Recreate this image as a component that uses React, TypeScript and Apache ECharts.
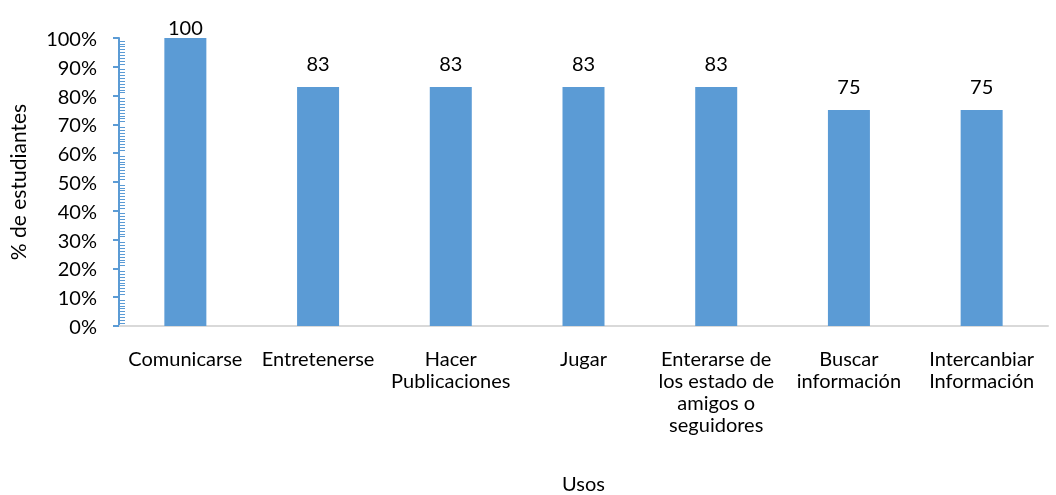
import React, { useEffect, useRef } from "react";
import * as echarts from "echarts";

const categories = [
  "Comunicarse",
  "Entretenerse",
  "Hacer\nPublicaciones",
  "Jugar",
  "Enterarse de\nlos estado de\namigos o\nseguidores",
  "Buscar\ninformación",
  "Intercanbiar\nInformación",
];
const values = [100, 83, 83, 83, 83, 75, 75];
const yTicks = [0, 10, 20, 30, 40, 50, 60, 70, 80, 90, 100];

const FONT = "Lato, 'Open Sans', sans-serif";

export default function App() {
  const ref = useRef<HTMLDivElement>(null);
  useEffect(() => {
    if (!ref.current) return;
    const chart = echarts.init(ref.current, undefined, { renderer: "svg" });
    chart.setOption({
      animation: false,
      textStyle: { fontFamily: FONT },
      grid: {
        left: 119,
        right: 8,
        top: 38,
        bottom: 169,
        containLabel: false,
        outerBoundsMode: "none",
      },
      xAxis: {
        type: "category",
        data: categories,
        name: "Usos",
        nameLocation: "middle",
        nameGap: 147,
        nameTextStyle: { fontSize: 20, color: "#000", fontFamily: FONT },
        axisLine: { lineStyle: { color: "#d9d9d9", width: 2 } },
        axisTick: { show: false },
        axisLabel: {
          interval: 0,
          fontSize: 20,
          color: "#000",
          fontFamily: FONT,
          margin: 21,
          lineHeight: 22,
          align: "center",
        },
      },
      yAxis: {
        type: "value",
        min: yTicks[0],
        max: yTicks[yTicks.length - 1],
        interval: 10,
        name: "% de estudiantes",
        nameLocation: "middle",
        nameGap: 91,
        nameTextStyle: { fontSize: 21, color: "#000", fontFamily: FONT },
        axisLine: { show: true, lineStyle: { color: "#5b9bd5", width: 2 } },
        axisTick: { show: true, length: 6, lineStyle: { color: "#5b9bd5", width: 2 } },
        minorTick: {
          show: true,
          splitNumber: 10,
          length: -6,
          lineStyle: { color: "#5b9bd5", width: 1 },
        },
        splitLine: { show: false },
        axisLabel: {
          formatter: "{value}%",
          fontSize: 20,
          color: "#000",
          fontFamily: FONT,
          margin: 22,
        },
      },
      series: [
        {
          type: "bar",
          data: values.map((v) => ({
            value: v,
            label: { distance: v >= 100 ? 1 : 14 },
          })),
          barWidth: 42,
          itemStyle: { color: "#5b9bd5" },
          label: {
            show: true,
            position: "top",
            fontSize: 20,
            color: "#000",
            fontFamily: FONT,
          },
        },
      ],
    });
    return () => chart.dispose();
  }, []);
  return (
    <div
      ref={ref}
      style={{ position: "fixed", left: 0, top: 0, width: 1056, height: 495 }}
    />
  );
}
